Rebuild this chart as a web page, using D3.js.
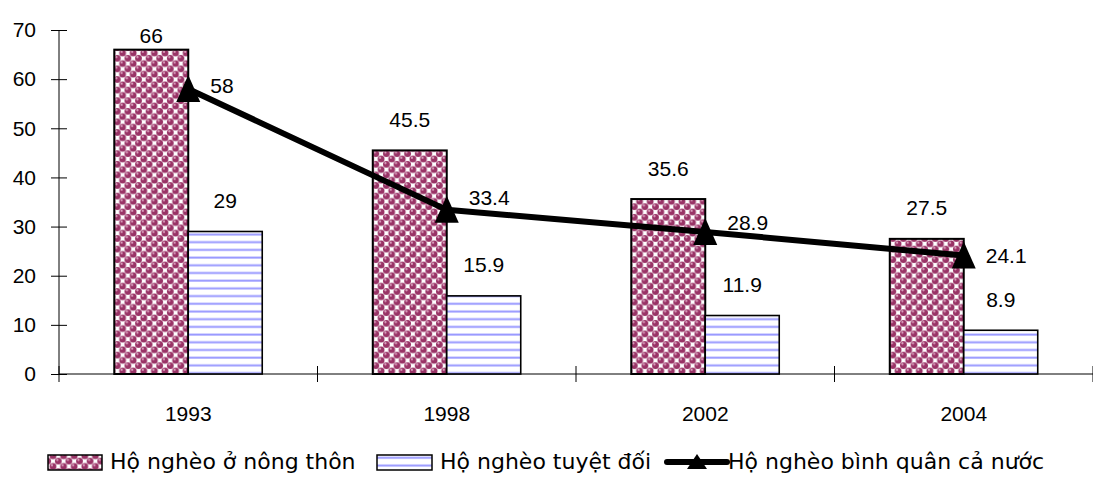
<!DOCTYPE html>
<html>
<head>
<meta charset="utf-8">
<script src="https://cdn.jsdelivr.net/npm/d3@7"></script>
<style>
  body { margin: 0; background: #fff; }
  .num { font-family: "Liberation Sans", Arial, sans-serif; font-size: 21px; fill: #000; }
  .leg { font-family: "DejaVu Sans", sans-serif; font-size: 22px; fill: #000; }
</style>
</head>
<body>
<script>
var w = 1093;
var h = 477;

// Data
var years = ["1993", "1998", "2002", "2004"];
var ruralPoor = [66, 45.5, 35.6, 27.5];
var absolutePoor = [29, 15.9, 11.9, 8.9];
var nationalPoor = [58, 33.4, 28.9, 24.1];
var seriesNames = ["Hộ nghèo ở nông thôn", "Hộ nghèo tuyệt đối", "Hộ nghèo bình quân cả nước"];
var yTicks = [0, 10, 20, 30, 40, 50, 60, 70];

// small vertical nudges for the line labels (as placed in the original)
var lineLabelNudge = [-4, -12, -10, 0];

var plotLeft = 59, plotRight = 1093, plotTop = 30, plotBottom = 374;

var svg = d3.select("body")
    .append("svg")
    .attr("width", w)
    .attr("height", h);

// Fill patterns
var defs = svg.append("defs");

// "spheres" fill: maroon balls on a checkerboard, white squares between
var t = 10.6;
var sph = defs.append("pattern")
    .attr("id", "spheres")
    .attr("patternUnits", "userSpaceOnUse")
    .attr("width", t)
    .attr("height", t);
sph.append("rect").attr("width", t).attr("height", t).attr("fill", "#fff");
[[0, 0], [t, 0], [0, t], [t, t], [t / 2, t / 2]].forEach(function(c) {
    sph.append("circle").attr("cx", c[0]).attr("cy", c[1]).attr("r", 3.4).attr("fill", "#993366");
    sph.append("circle").attr("cx", c[0] - 1).attr("cy", c[1] - 1.2).attr("r", 1.1).attr("fill", "#dca3c0");
});

var stripes = defs.append("pattern")
    .attr("id", "stripes")
    .attr("patternUnits", "userSpaceOnUse")
    .attr("width", 8)
    .attr("height", 7.7);
stripes.append("rect").attr("width", 8).attr("height", 7.7).attr("fill", "#fff");
stripes.append("rect").attr("y", 2.5).attr("width", 8).attr("height", 2).attr("fill", "#9999ff");

// Scales
var y = d3.scaleLinear().domain([0, 70]).range([plotBottom, plotTop]);

var x0 = d3.scaleBand()
    .domain(years)
    .range([plotLeft, plotRight]);

var x1 = d3.scaleBand()
    .domain(["rural", "absolute"])
    .range([0, x0.bandwidth()])
    .paddingInner(0)
    .paddingOuter(0.747);

// Y axis
var yAxis = svg.append("g")
    .attr("transform", "translate(" + plotLeft + ",0)")
    .call(d3.axisLeft(y).tickValues(yTicks).tickSize(8).tickPadding(15));
yAxis.select(".domain").remove();
yAxis.selectAll(".tick line").attr("x1", 8).attr("stroke", "#000");
yAxis.selectAll("text").attr("class", "num");
yAxis.append("line")
    .attr("x1", 0).attr("x2", 0)
    .attr("y1", y(70)).attr("y2", y(0))
    .attr("stroke", "#000");

// X axis
var xAxis = svg.append("g")
    .attr("transform", "translate(0," + plotBottom + ")")
    .call(d3.axisBottom(x0).tickSize(0).tickPadding(32));
xAxis.select(".domain").attr("d", "M" + plotLeft + ",0H" + plotRight).attr("stroke", "#000");
xAxis.selectAll("text").attr("class", "num");

var bounds = years.map(function(d) { return x0(d); }).concat([x0.range()[1]]);
xAxis.selectAll(".bound")
    .data(bounds)
    .enter().append("line")
    .attr("class", "bound")
    .attr("x1", function(d) { return d; })
    .attr("x2", function(d) { return d; })
    .attr("y1", -8).attr("y2", 8)
    .attr("stroke", "#000");

// Bars
var groups = svg.selectAll("g.year")
    .data(years)
    .enter().append("g")
    .attr("class", "year")
    .attr("transform", function(d) { return "translate(" + x0(d) + ",0)"; });

groups.append("rect")
    .attr("x", x1("rural"))
    .attr("width", x1.bandwidth())
    .attr("y", function(d, i) { return y(ruralPoor[i]); })
    .attr("height", function(d, i) { return y(0) - y(ruralPoor[i]); })
    .attr("fill", "url(#spheres)")
    .attr("stroke", "#000")
    .attr("stroke-width", 2);

groups.append("rect")
    .attr("x", x1("absolute"))
    .attr("width", x1.bandwidth())
    .attr("y", function(d, i) { return y(absolutePoor[i]); })
    .attr("height", function(d, i) { return y(0) - y(absolutePoor[i]); })
    .attr("fill", "url(#stripes)")
    .attr("stroke", "#000")
    .attr("stroke-width", 1.6);

// Bar labels
groups.append("text")
    .attr("class", "num")
    .attr("text-anchor", "middle")
    .attr("x", x1("rural") + x1.bandwidth() / 2)
    .attr("y", function(d, i) { return Math.max(y(ruralPoor[i]) - 31, plotTop + 5); })
    .attr("dy", "0.36em")
    .text(function(d, i) { return ruralPoor[i]; });

groups.append("text")
    .attr("class", "num")
    .attr("text-anchor", "middle")
    .attr("x", x1("absolute") + x1.bandwidth() / 2)
    .attr("y", function(d, i) { return y(absolutePoor[i]) - 31; })
    .attr("dy", "0.36em")
    .text(function(d, i) { return absolutePoor[i]; });

// Line
var cx = function(d, i) { return x0(years[i]) + x0.bandwidth() / 2; };
var line = d3.line()
    .x(cx)
    .y(function(d) { return y(d); });

svg.append("path")
    .datum(nationalPoor)
    .attr("d", line)
    .attr("fill", "none")
    .attr("stroke", "#000")
    .attr("stroke-width", 6)
    .attr("stroke-linejoin", "round");

var tri = "M0,-14L12,13L-12,13Z";
svg.selectAll(".marker")
    .data(nationalPoor)
    .enter().append("path")
    .attr("class", "marker")
    .attr("d", tri)
    .attr("transform", function(d, i) { return "translate(" + cx(d, i) + "," + y(d) + ")"; })
    .attr("fill", "#000");

svg.selectAll(".lineLabel")
    .data(nationalPoor)
    .enter().append("text")
    .attr("class", "num lineLabel")
    .attr("x", function(d, i) { return cx(d, i) + 22; })
    .attr("y", function(d, i) { return y(d) + lineLabelNudge[i]; })
    .attr("dy", "0.36em")
    .text(function(d) { return d; });

// Legend
var legY = 462;
var legX = [48, 377, 667];

svg.append("rect")
    .attr("x", legX[0]).attr("y", legY - 7)
    .attr("width", 54).attr("height", 15)
    .attr("fill", "url(#spheres)")
    .attr("stroke", "#000").attr("stroke-width", 1.5);
svg.append("text").attr("class", "leg")
    .attr("x", legX[0] + 62).attr("y", legY + 7)
    .text(seriesNames[0]);

svg.append("rect")
    .attr("x", legX[1]).attr("y", legY - 7)
    .attr("width", 55).attr("height", 15)
    .attr("fill", "url(#stripes)")
    .attr("stroke", "#000").attr("stroke-width", 1.5);
svg.append("text").attr("class", "leg")
    .attr("x", legX[1] + 63).attr("y", legY + 7)
    .text(seriesNames[1]);

svg.append("line")
    .attr("x1", legX[2]).attr("x2", legX[2] + 60)
    .attr("y1", legY).attr("y2", legY)
    .attr("stroke", "#000").attr("stroke-width", 6)
    .attr("stroke-linecap", "round");
svg.append("path")
    .attr("d", "M0,-8L10,7L-10,7Z")
    .attr("transform", "translate(" + (legX[2] + 30) + "," + legY + ")")
    .attr("fill", "#000");
svg.append("text").attr("class", "leg")
    .attr("x", legX[2] + 61).attr("y", legY + 7)
    .text(seriesNames[2]);
</script>
</body>
</html>
